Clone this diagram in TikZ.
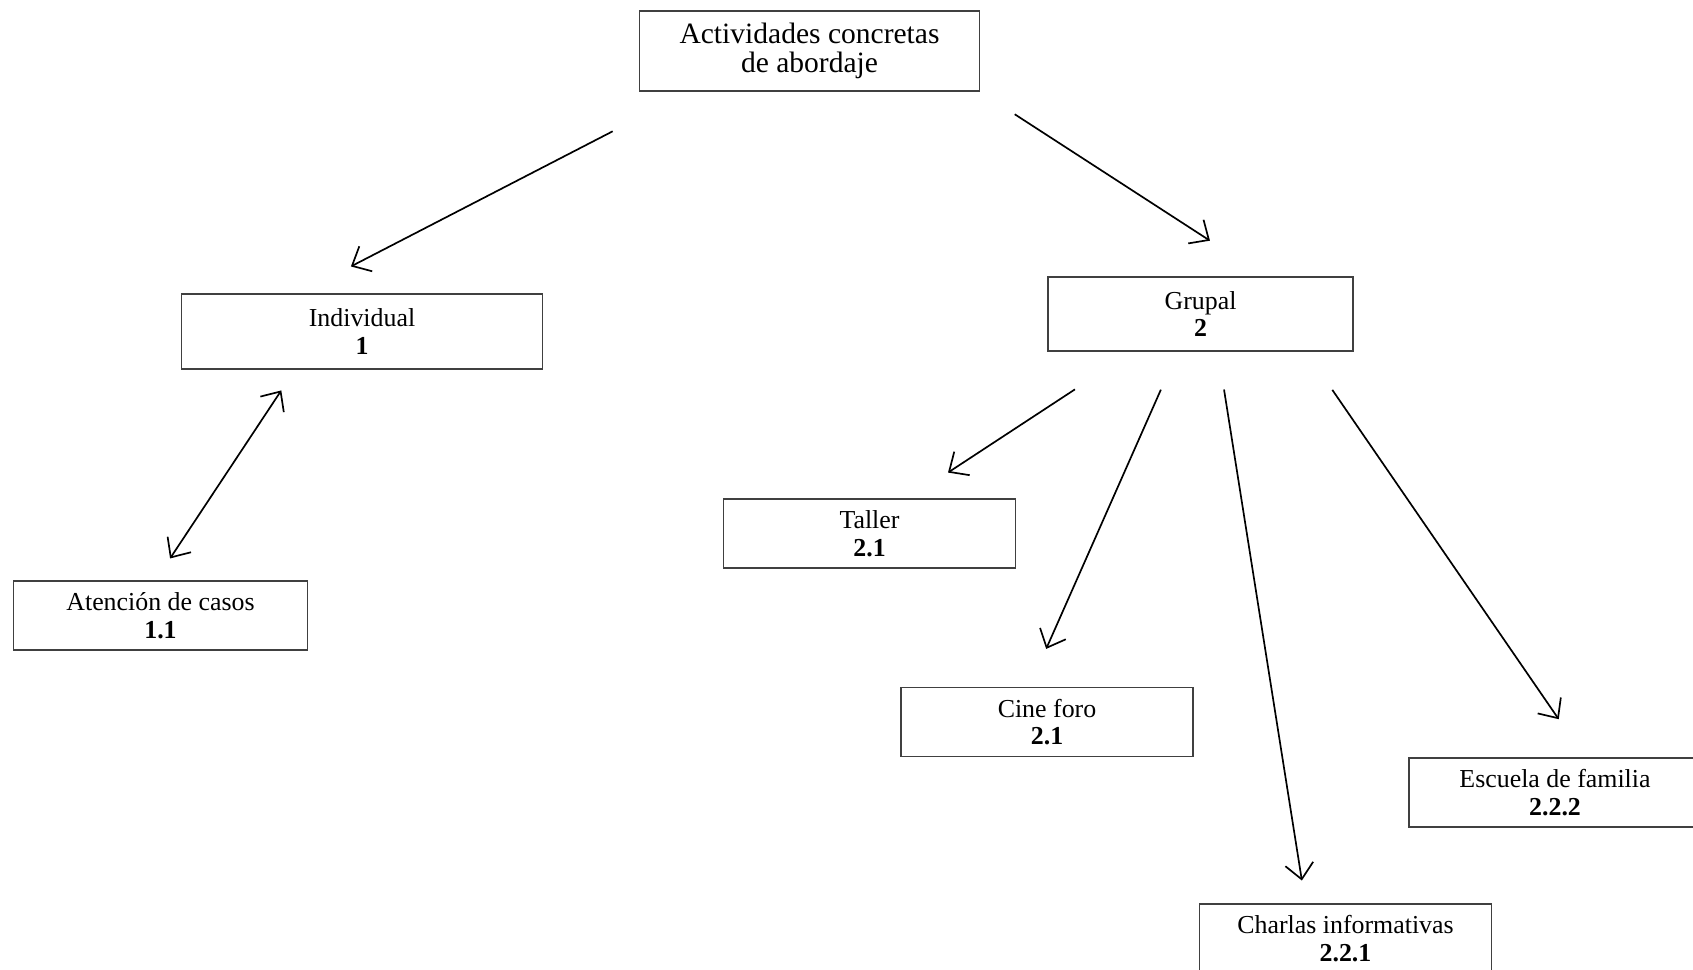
\documentclass[tikz,border=0pt]{standalone}
\usepackage{fontspec}
\setmainfont{Liberation Serif}
\usetikzlibrary{arrows.meta,calc}

\begin{document}
\begin{tikzpicture}[x=0.0125cm, y=-0.0125cm,
		caja/.style={rectangle, draw=black!75, line width=0.45pt, align=center, inner sep=0pt,
			minimum width=3.65cm, minimum height=0.86cm, font=\fontsize{9.2}{9.9}\selectfont},
		flecha/.style={line width=0.6pt, >={Straight Barb[length=5.5pt,width=10pt]}}]
			\useasboundingbox (0,0) rectangle (1693,970);
			% cajas
			\node[caja, minimum width=4.24cm, minimum height=1cm, font=\fontsize{10.5}{10.6}\selectfont] (act) at (809.5,51) {Actividades concretas\\de abordaje};
			\node[caja, minimum width=4.51cm, minimum height=0.94cm] (ind) at (362,331.5) {Individual\\\textbf{1}};
			\node[caja, minimum width=3.67cm] (ate) at (160.5,615.5) {Atención de casos\\\textbf{1.1}};
			\node[caja, minimum width=3.81cm, minimum height=0.925cm] (gru) at (1200.5,314) {Grupal\\\textbf{2}};
			\node[caja] (tal) at (869.5,533.5) {Taller\\\textbf{2.1}};
			\node[caja] (cin) at (1047,722) {Cine foro\\\textbf{2.1}};
			\node[caja] (esc) at (1555,792.5) {Escuela de familia\\\textbf{2.2.2}};
			\node[caja] (cha) at (1345.5,938.5) {Charlas informativas\\\textbf{2.2.1}};
			% flechas
			\draw[flecha, ->, shorten <=1.08cm, shorten >=0.73cm] ($(act.south)+(-120,0)$) -- ($(ind.north)+(-63,0)$);
			\draw[flecha, ->, shorten <=0.52cm, shorten >=0.82cm] (act.south east) -- ($(gru.north)+(64.5,0)$);
			\draw[flecha, <->, shorten <=0.31cm, shorten >=0.33cm] ($(ind.south)+(-67,0)$) -- ($(ate.north)+(-5,0)$);
			\draw[flecha, ->, shorten <=0.86cm, shorten >=0.59cm] ($(gru.south)+(-68,0)$) -- ($(tal.north)+(39,0)$);
			\draw[flecha, ->, shorten <=0.52cm, shorten >=0.52cm] ($(gru.south)+(-22.8,0)$) -- ($(cin.north)+(-17.7,0)$);
			\draw[flecha, ->, shorten <=0.48cm, shorten >=0.29cm] ($(gru.south)+(17.5,0)$) -- ($(cha.north)+(-40,0)$);
			\draw[flecha, ->, shorten <=0.58cm, shorten >=0.58cm] ($(gru.south)+(105.5,0)$) -- ($(esc.north)+(30,0)$);
\end{tikzpicture}
\end{document}
